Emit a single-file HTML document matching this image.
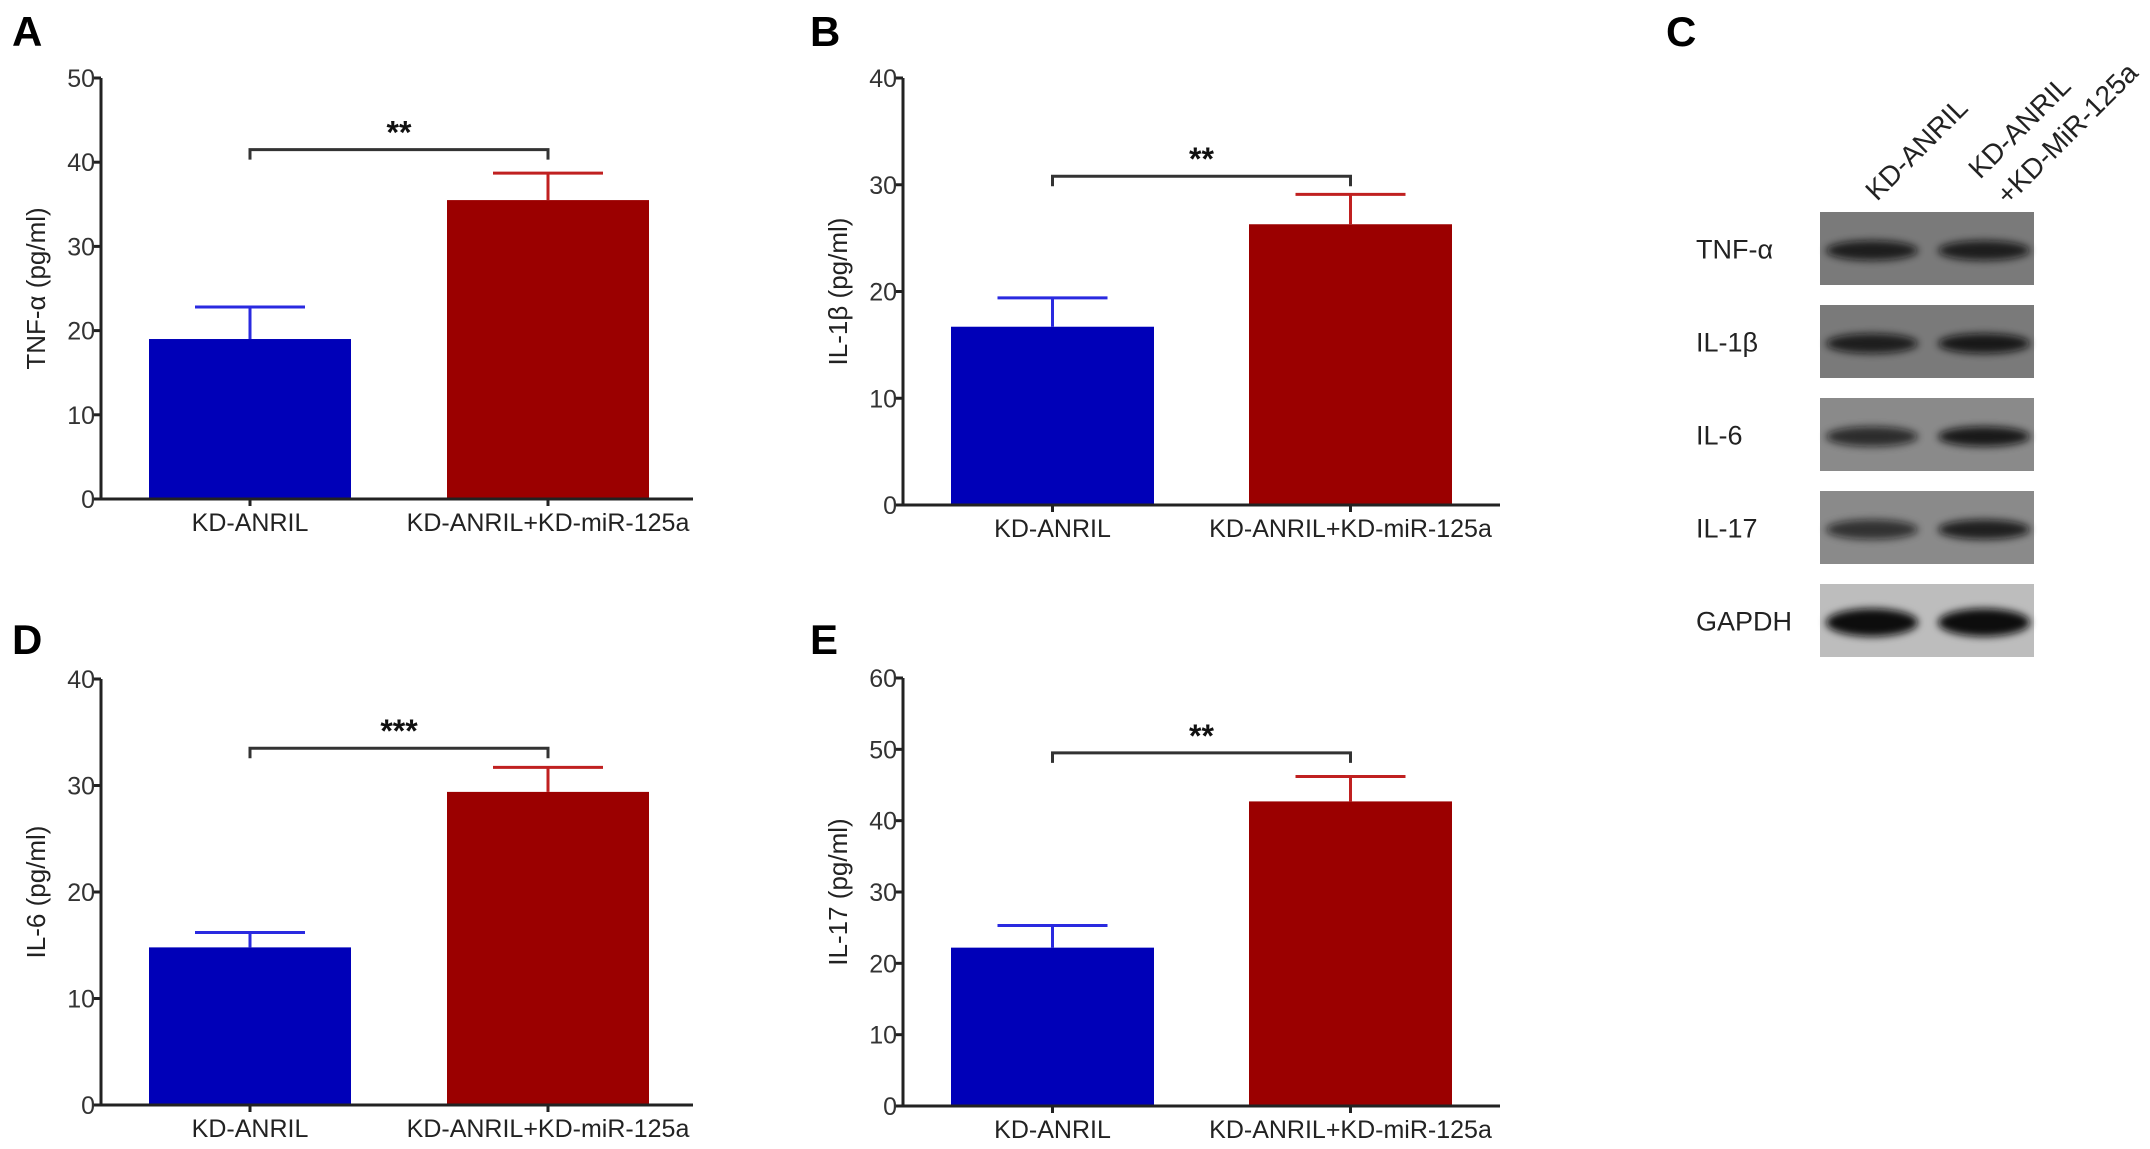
<!DOCTYPE html>
<html><head><meta charset="utf-8"><style>
html,body{margin:0;padding:0;background:#fff;}
svg{display:block;font-family:"Liberation Sans",Arial,sans-serif;}
</style></head><body>
<svg id="fig" width="2150" height="1149" viewBox="0 0 2150 1149">
<defs>
<filter id="blur" x="-20%" y="-50%" width="140%" height="200%"><feGaussianBlur stdDeviation="4"/></filter>
</defs>
</svg>
<script>
// ===== chart data =====
const categories = ["KD-ANRIL", "KD-ANRIL+KD-miR-125a"];
const tnfValues = [19.0, 35.5];
const tnfErrors = [3.8, 3.2];
const il1bValues = [16.7, 26.3];
const il1bErrors = [2.7, 2.8];
const il6Values = [14.8, 29.4];
const il6Errors = [1.4, 2.3];
const il17Values = [22.2, 42.7];
const il17Errors = [3.1, 3.5];
const tnfTicks = [0, 10, 20, 30, 40, 50];
const il1bTicks = [0, 10, 20, 30, 40];
const il6Ticks = [0, 10, 20, 30, 40];
const il17Ticks = [0, 10, 20, 30, 40, 50, 60];
const significance = ["**", "**", "***", "**"];
const bracketLevels = [41.5, 30.8, 33.5, 49.5];
const blotRows = ["TNF-α", "IL-1β", "IL-6", "IL-17", "GAPDH"];
const blotIntensity = [[0.85, 0.85], [0.85, 0.9], [0.75, 0.9], [0.7, 0.85], [1.0, 1.0]];

const NS = "http://www.w3.org/2000/svg";
const svg = document.getElementById("fig");
function mk(tag, attrs, parent) {
  const e = document.createElementNS(NS, tag);
  for (const k in attrs) e.setAttribute(k, attrs[k]);
  (parent || svg).appendChild(e);
  return e;
}
const colors = ["#0000b8", "#9b0000"];
const errColors = ["#2a2ae0", "#c02020"];

function panel(cfg) {
  const g = mk("g", {});
  
  
  const {x0, y0, yTop, xEnd, max, ticks, values, errors, barX, barW} = cfg;
  const yS = v => y0 - (v / max) * (y0 - yTop);
  const L = mk("text", {x: cfg.lx, y: cfg.ly, "font-size": 42, "font-weight": "bold", fill: "#000"}, g);
  L.textContent = cfg.letter;
  
  
  values.forEach((v, i) => {
    const top = yS(v);
    const b = mk("rect", {x: barX[i], y: top, width: barW, height: y0 - top, fill: colors[i]}, g);
    
    
    const cx = barX[i] + barW / 2, et = yS(v + errors[i]);
    const e = mk("path", {d: `M${cx},${top} V${et} M${cx - 55},${et} H${cx + 55}`, stroke: errColors[i], "stroke-width": 3, fill: "none"}, g);
    
    
  });
  const ax = mk("path", {d: `M${x0},${yTop} V${y0} H${xEnd}`, stroke: "#222", "stroke-width": 3, fill: "none"}, g);
  
  
  ticks.forEach(t => {
    const y = yS(t);
    const tk = mk("line", {x1: x0 - 7, x2: x0, y1: y, y2: y, stroke: "#222", "stroke-width": 3}, g);
    
    
    const tl = mk("text", {x: x0 - 6, y: y + 9, "font-size": 25, fill: "#333", "text-anchor": "end"}, g);
    tl.textContent = t;
    
    
  });
  categories.forEach((c, i) => {
    const cx = barX[i] + barW / 2;
    const tk = mk("line", {x1: cx, x2: cx, y1: y0, y2: y0 + 7, stroke: "#222", "stroke-width": 3}, g);
    
    
    const tl = mk("text", {x: cx, y: y0 + 32, "font-size": 25, fill: "#222", "text-anchor": "middle"}, g);
    tl.textContent = c;
    
    
  });
  const my = (yTop + y0) / 2;
  const yt = mk("text", {x: 0, y: 0, "font-size": 26, fill: "#222", "text-anchor": "middle", transform: `translate(${x0 - 56},${my}) rotate(-90)`}, g);
  yt.textContent = cfg.ytitle;
  
  
  const by = yS(cfg.bracket);
  const c1 = barX[0] + barW / 2, c2 = barX[1] + barW / 2;
  const br = mk("path", {d: `M${c1},${by + 10} V${by} H${c2} V${by + 10}`, stroke: "#333", "stroke-width": 3, fill: "none"}, g);
  
  
  const st = mk("text", {x: (c1 + c2) / 2, y: by - 6, "font-size": 32, "font-weight": "bold", fill: "#111", "text-anchor": "middle"}, g);
  st.textContent = cfg.sig;
  
  
}

panel({name: "panel-a-tnf-chart", letter: "A", lx: 12, ly: 46, x0: 101, y0: 499, yTop: 78, xEnd: 693, max: 50, ticks: tnfTicks, values: tnfValues, errors: tnfErrors, barX: [149, 447], barW: 202, ytitle: "TNF-α (pg/ml)", bracket: bracketLevels[0], sig: significance[0]});
panel({name: "panel-b-il1b-chart", letter: "B", lx: 810, ly: 46, x0: 903, y0: 505, yTop: 78, xEnd: 1500, max: 40, ticks: il1bTicks, values: il1bValues, errors: il1bErrors, barX: [951, 1249], barW: 203, ytitle: "IL-1β (pg/ml)", bracket: bracketLevels[1], sig: significance[1]});
panel({name: "panel-d-il6-chart", letter: "D", lx: 12, ly: 654, x0: 101, y0: 1105, yTop: 679, xEnd: 693, max: 40, ticks: il6Ticks, values: il6Values, errors: il6Errors, barX: [149, 447], barW: 202, ytitle: "IL-6 (pg/ml)", bracket: bracketLevels[2], sig: significance[2]});
panel({name: "panel-e-il17-chart", letter: "E", lx: 810, ly: 654, x0: 903, y0: 1106, yTop: 678, xEnd: 1500, max: 60, ticks: il17Ticks, values: il17Values, errors: il17Errors, barX: [951, 1249], barW: 203, ytitle: "IL-17 (pg/ml)", bracket: bracketLevels[3], sig: significance[3]});

// ===== Western blot panel C =====
const gc = mk("g", {});


const CL = mk("text", {x: 1666, y: 46, "font-size": 42, "font-weight": "bold", fill: "#000"}, gc);
CL.textContent = "C";


const bx = 1820, bw = 214, rowTop = 212, rowH = 73, rowGap = 93;
const laneCx = [1872, 1984];
const l1 = mk("text", {x: 0, y: 0, "font-size": 28, fill: "#222", transform: `translate(1877,202) rotate(-45)`}, gc);
l1.textContent = "KD-ANRIL";


const l2 = mk("text", {x: 0, y: 0, "font-size": 28, fill: "#222", transform: `translate(1980,180) rotate(-45)`}, gc);
l2.textContent = "KD-ANRIL";


const l3 = mk("text", {x: 0, y: 0, "font-size": 28, fill: "#222", transform: `translate(2008,206) rotate(-45)`}, gc);
l3.textContent = "+KD-MiR-125a";


blotRows.forEach((r, i) => {
  const y = rowTop + i * rowGap;
  const bg = i === 4 ? "#bdbdbd" : (i === 2 || i === 3 ? "#8a8a8a" : "#7a7a7a");
  const rect = mk("rect", {x: bx, y: y, width: bw, height: rowH, fill: bg}, gc);
  
  
  blotIntensity[i].forEach((a, j) => {
    const band = mk("ellipse", {cx: laneCx[j], cy: y + rowH / 2 + 2, rx: 46, ry: i === 4 ? 14 : 10, fill: "#0a0a0a", opacity: a, filter: "url(#blur)"}, gc);
    
    
  });
  const t = mk("text", {x: 1696, y: y + rowH / 2 + 10, "font-size": 27, fill: "#222"}, gc);
  t.textContent = r;
  
  
});
</script>
</body></html>
